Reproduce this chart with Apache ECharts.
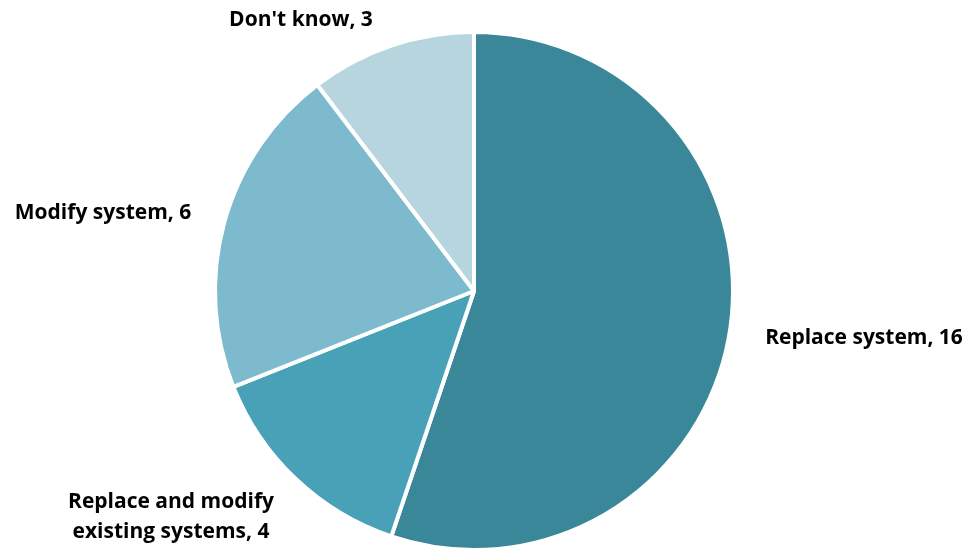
<!DOCTYPE html>
<html>
<head>
<meta charset="utf-8">
<script src="https://cdn.jsdelivr.net/npm/echarts@6/dist/echarts.min.js"></script>
<style>
  html, body { margin: 0; padding: 0; background: #fff; }
  #chart { width: 973px; height: 550px; }
</style>
</head>
<body>
<div id="chart"></div>
<script>
const categories = ['Replace system', 'Replace and modify\nexisting systems', 'Modify system', "Don't know"];
const values = [16, 4, 6, 3];
const colors = ['#3a8799', '#48a1b6', '#7dbacd', '#b7d5df'];
// label centres in px (label placement only)
const labelPos = [[864, 338], [171, 517], [103, 213], [301, 20]];

const chart = echarts.init(document.getElementById('chart'));
chart.setOption({
  animation: false,
  series: [{
    type: 'pie',
    center: [474, 291],
    radius: 259,
    startAngle: 90,
    clockwise: true,
    data: categories.map((name, i) => ({ name, value: values[i], itemStyle: { color: colors[i] } })),
    itemStyle: { borderColor: '#fff', borderWidth: 4 },
    label: {
      show: true,
      formatter: '{b}, {c}',
      fontFamily: 'Open Sans',
      fontWeight: 'bold',
      fontSize: 21,
      lineHeight: 30,
      color: '#000',
      align: 'center',
      overflow: 'none'
    },
    labelLine: { show: false },
    labelLayout: function (p) {
      const pos = labelPos[p.dataIndex];
      return { x: pos[0], y: pos[1], align: 'center', verticalAlign: 'middle' };
    }
  }]
});
</script>
</body>
</html>
